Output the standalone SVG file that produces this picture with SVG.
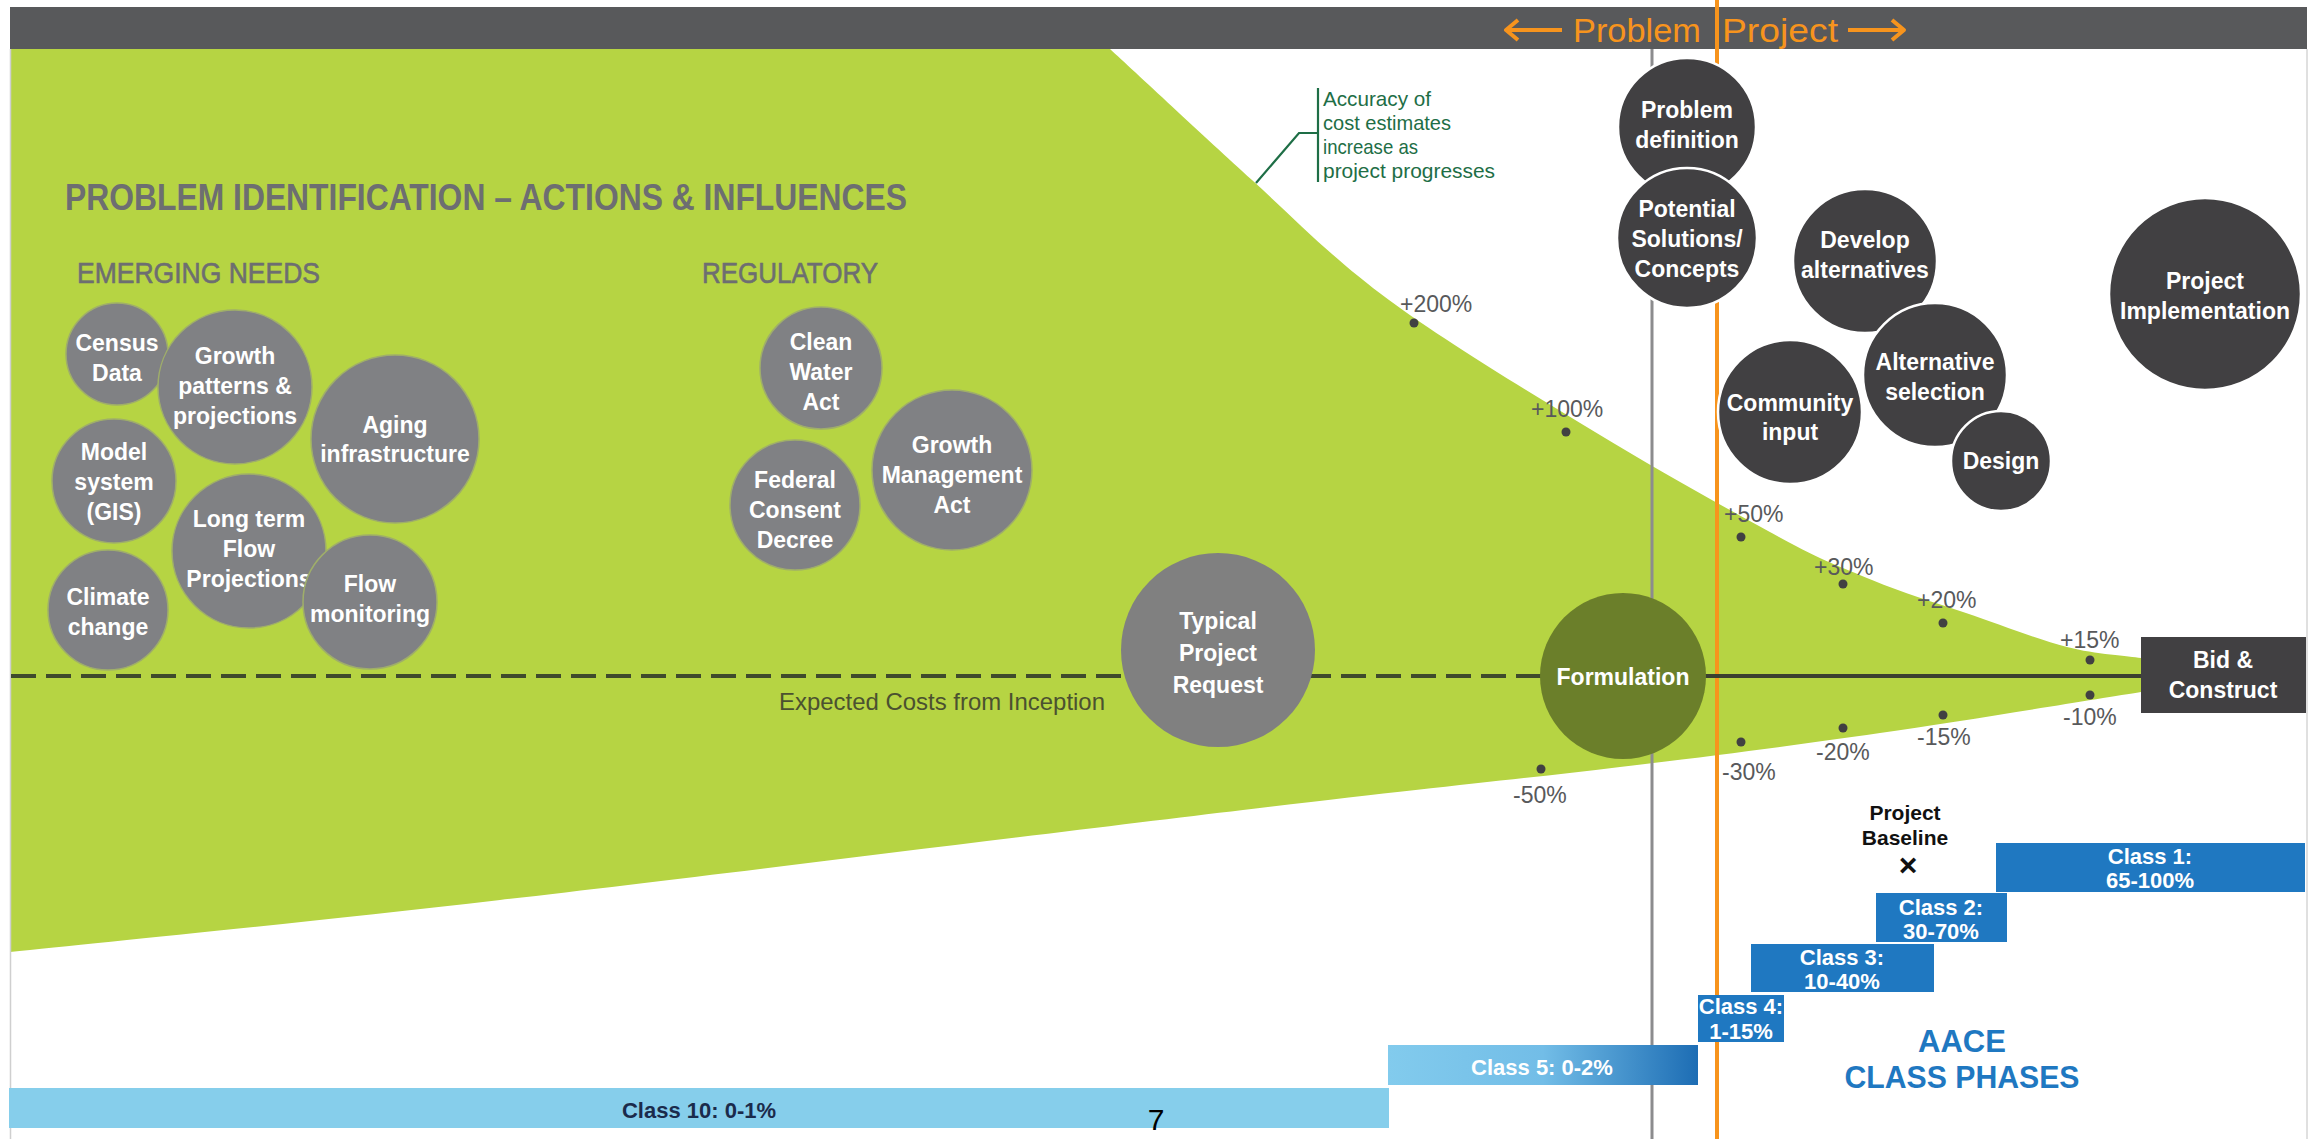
<svg xmlns="http://www.w3.org/2000/svg" width="2323" height="1139" viewBox="0 0 2323 1139">
  <defs>
    <linearGradient id="class5Fill" x1="0" y1="0" x2="1" y2="0">
      <stop offset="0" stop-color="#82cbed"/>
      <stop offset="0.5" stop-color="#72bde7"/>
      <stop offset="1" stop-color="#1d6db4"/>
    </linearGradient>
    <style>
      text { font-family: "Liberation Sans", Arial, Helvetica, sans-serif; }
      .lbl { font-weight: bold; font-size: 23px; fill: #ffffff; text-anchor: middle; }
      .infl circle { fill: #808184; stroke: #9fae6a; stroke-width: 1.5; }
      .phase circle { fill: #414042; stroke: #ffffff; stroke-width: 2.5; }
      .pct { font-size: 23px; fill: #58595b; }
      .dot { fill: #414042; }
      .bar { fill: #1f78c1; }
      .cls { font-weight: bold; font-size: 22px; fill: #ffffff; text-anchor: middle; }
      .head { font-weight: bold; fill: #6d6e71; }
      .note { font-size: 21px; fill: #1e6e46; }
      .aace { font-weight: bold; fill: #1f78c1; text-anchor: middle; }
    </style>
  </defs>

  <rect width="2323" height="1139" fill="#ffffff"/>

  <!-- cost-accuracy funnel -->
  <path id="funnel" fill="#b6d443" d="M10,49 L1110,49 C1134,71 1206,138 1252,180 C1298,222 1332,258 1389,300 C1446,342 1530,392.5 1595,432 C1660,471.5 1733,512 1779,537 C1825,562 1841,567 1872,580 C1903,593 1933.5,602 1966,613 C1998.5,624 2038,639.5 2067,647 C2096,654.5 2129,656 2141,658 L2150,658 L2150,691 L2141,692 C2097.5,698.8 1966.8,720.5 1880,733 C1793.2,745.5 1726.2,754.2 1620,767 C1513.8,779.8 1429.7,787.8 1243,810 C1056.3,832.2 705.3,876.3 500,900 C294.7,923.7 92.5,943.3 10,952 Z"/>

  <!-- page frame -->
  <line x1="10.5" y1="49" x2="10.5" y2="1139" stroke="#cfcfcf" stroke-width="1.5"/>
  <line x1="2307" y1="49" x2="2307" y2="1139" stroke="#d6d6d6" stroke-width="1.5"/>

  <!-- header bar -->
  <rect x="10" y="7" width="2297" height="42" fill="#58595b"/>

  <!-- connectors: phase dividers, cost baseline, callout -->
  <g id="connectors">
    <line x1="1652" y1="49" x2="1652" y2="1139" stroke="#8c8c8e" stroke-width="3"/>
    <line x1="1717" y1="0" x2="1717" y2="1139" stroke="#f7941d" stroke-width="4"/>
    <line x1="11" y1="676" x2="1545" y2="676" stroke="#3f4a2c" stroke-width="4" stroke-dasharray="25 10"/>
    <line x1="1700" y1="676" x2="2145" y2="676" stroke="#3b4030" stroke-width="4"/>
    <path d="M1256,183 L1299,133 L1318,133 M1318,88 L1318,182" fill="none" stroke="#1e6e46" stroke-width="2.2"/>
    <path d="M1562,30 H1507 M1518,20 L1506,30 L1518,40" fill="none" stroke="#f7941d" stroke-width="4" stroke-linejoin="round"/>
    <path d="M1848,30 H1903 M1892,20 L1904,30 L1892,40" fill="none" stroke="#f7941d" stroke-width="4" stroke-linejoin="round"/>
  </g>

  <!-- AACE class bars -->
  <g id="class-bars">
    <rect x="9" y="1088" width="1380" height="40" fill="#86ceeb"/>
    <text x="699" y="1118" font-weight="bold" font-size="22" fill="#1b2b4b" text-anchor="middle">Class 10: 0-1%</text>
    <rect x="1388" y="1045" width="310" height="40" fill="url(#class5Fill)"/>
    <text class="cls" x="1542" y="1075">Class 5: 0-2%</text>
    <rect class="bar" x="1698" y="995" width="86" height="47"/>
    <text class="cls" x="1741" y="1014">Class 4:</text>
    <text class="cls" x="1741" y="1039">1-15%</text>
    <rect class="bar" x="1751" y="944" width="183" height="48"/>
    <text class="cls" x="1842" y="965">Class 3:</text>
    <text class="cls" x="1842" y="989">10-40%</text>
    <rect class="bar" x="1876" y="893" width="131" height="49"/>
    <text class="cls" x="1941" y="915">Class 2:</text>
    <text class="cls" x="1941" y="939">30-70%</text>
    <rect class="bar" x="1996" y="843" width="309" height="49"/>
    <text class="cls" x="2150" y="864">Class 1:</text>
    <text class="cls" x="2150" y="888">65-100%</text>
  </g>

  <!-- header labels -->
  <text x="1573" y="42" font-size="34" fill="#f7941d" textLength="128" lengthAdjust="spacingAndGlyphs">Problem</text>
  <text x="1722" y="42" font-size="34" fill="#f7941d" textLength="116" lengthAdjust="spacingAndGlyphs">Project</text>

  <!-- section headings -->
  <text class="head" x="65" y="210" font-size="37" textLength="842" lengthAdjust="spacingAndGlyphs">PROBLEM IDENTIFICATION – ACTIONS &amp; INFLUENCES</text>
  <text x="77" y="283" font-size="29" fill="#6d6e71" textLength="243" lengthAdjust="spacingAndGlyphs" stroke="#6d6e71" stroke-width="0.6">EMERGING NEEDS</text>
  <text x="702" y="283" font-size="29" fill="#6d6e71" textLength="176" lengthAdjust="spacingAndGlyphs" stroke="#6d6e71" stroke-width="0.6">REGULATORY</text>

  <!-- accuracy callout -->
  <g id="accuracy-note" class="note">
    <text x="1323" y="106" textLength="108" lengthAdjust="spacingAndGlyphs">Accuracy of</text>
    <text x="1323" y="130" textLength="128" lengthAdjust="spacingAndGlyphs">cost estimates</text>
    <text x="1323" y="154" textLength="95" lengthAdjust="spacingAndGlyphs">increase as</text>
    <text x="1323" y="178" textLength="172" lengthAdjust="spacingAndGlyphs">project progresses</text>
  </g>

  <!-- emerging needs -->
  <g id="census-data" class="infl">
    <circle cx="117" cy="354" r="51"/>
    <text class="lbl" x="117" y="351">Census</text>
    <text class="lbl" x="117" y="381">Data</text>
  </g>
  <g id="growth-patterns" class="infl">
    <circle cx="235" cy="387" r="77"/>
    <text class="lbl" x="235" y="364">Growth</text>
    <text class="lbl" x="235" y="394">patterns &amp;</text>
    <text class="lbl" x="235" y="424">projections</text>
  </g>
  <g id="aging-infrastructure" class="infl">
    <circle cx="395" cy="439" r="84"/>
    <text class="lbl" x="395" y="433">Aging</text>
    <text class="lbl" x="395" y="462">infrastructure</text>
  </g>
  <g id="model-system" class="infl">
    <circle cx="114" cy="481" r="62"/>
    <text class="lbl" x="114" y="460">Model</text>
    <text class="lbl" x="114" y="490">system</text>
    <text class="lbl" x="114" y="520">(GIS)</text>
  </g>
  <g id="long-term-flow" class="infl">
    <circle cx="249" cy="551" r="77"/>
    <text class="lbl" x="249" y="527">Long term</text>
    <text class="lbl" x="249" y="557">Flow</text>
    <text class="lbl" x="249" y="587">Projections</text>
  </g>
  <g id="flow-monitoring" class="infl">
    <circle cx="370" cy="602" r="67"/>
    <text class="lbl" x="370" y="592">Flow</text>
    <text class="lbl" x="370" y="622">monitoring</text>
  </g>
  <g id="climate-change" class="infl">
    <circle cx="108" cy="610" r="60"/>
    <text class="lbl" x="108" y="605">Climate</text>
    <text class="lbl" x="108" y="635">change</text>
  </g>

  <!-- regulatory -->
  <g id="clean-water-act" class="infl">
    <circle cx="821" cy="368" r="61"/>
    <text class="lbl" x="821" y="350">Clean</text>
    <text class="lbl" x="821" y="380">Water</text>
    <text class="lbl" x="821" y="410">Act</text>
  </g>
  <g id="federal-consent-decree" class="infl">
    <circle cx="795" cy="505" r="65"/>
    <text class="lbl" x="795" y="488">Federal</text>
    <text class="lbl" x="795" y="518">Consent</text>
    <text class="lbl" x="795" y="548">Decree</text>
  </g>
  <g id="growth-management-act" class="infl">
    <circle cx="952" cy="470" r="80"/>
    <text class="lbl" x="952" y="453">Growth</text>
    <text class="lbl" x="952" y="483">Management</text>
    <text class="lbl" x="952" y="513">Act</text>
  </g>

  <text x="779" y="710" font-size="24" fill="#4b5130" textLength="326" lengthAdjust="spacingAndGlyphs">Expected Costs from Inception</text>

  <g id="typical-project-request">
    <circle cx="1218" cy="650" r="97" fill="#808080"/>
    <text class="lbl" x="1218" y="629" font-size="26">Typical</text>
    <text class="lbl" x="1218" y="661" font-size="26">Project</text>
    <text class="lbl" x="1218" y="693" font-size="26">Request</text>
  </g>

  <g id="formulation">
    <circle cx="1623" cy="676" r="83" fill="#6b7f2a"/>
    <text class="lbl" x="1623" y="685" font-size="24">Formulation</text>
  </g>

  <!-- accuracy range markers -->
  <g id="accuracy-markers">
    <circle class="dot" cx="1414" cy="323" r="4.5"/>
    <text class="pct" x="1400" y="312">+200%</text>
    <circle class="dot" cx="1566" cy="432" r="4.5"/>
    <text class="pct" x="1531" y="417">+100%</text>
    <circle class="dot" cx="1741" cy="537" r="4.5"/>
    <text class="pct" x="1724" y="522">+50%</text>
    <circle class="dot" cx="1843" cy="584" r="4.5"/>
    <text class="pct" x="1814" y="575">+30%</text>
    <circle class="dot" cx="1943" cy="623" r="4.5"/>
    <text class="pct" x="1917" y="608">+20%</text>
    <circle class="dot" cx="2090" cy="660" r="4.5"/>
    <text class="pct" x="2060" y="648">+15%</text>
    <circle class="dot" cx="2090" cy="695" r="4.5"/>
    <text class="pct" x="2063" y="725">-10%</text>
    <circle class="dot" cx="1943" cy="715" r="4.5"/>
    <text class="pct" x="1917" y="745">-15%</text>
    <circle class="dot" cx="1843" cy="728" r="4.5"/>
    <text class="pct" x="1816" y="760">-20%</text>
    <circle class="dot" cx="1741" cy="742" r="4.5"/>
    <text class="pct" x="1722" y="780">-30%</text>
    <circle class="dot" cx="1541" cy="769" r="4.5"/>
    <text class="pct" x="1513" y="803">-50%</text>
  </g>

  <!-- project phases -->
  <g id="problem-definition" class="phase">
    <circle cx="1687" cy="127" r="69"/>
    <text class="lbl" x="1687" y="118">Problem</text>
    <text class="lbl" x="1687" y="148">definition</text>
  </g>
  <g id="potential-solutions" class="phase">
    <circle cx="1687" cy="238" r="70"/>
    <text class="lbl" x="1687" y="217">Potential</text>
    <text class="lbl" x="1687" y="247">Solutions/</text>
    <text class="lbl" x="1687" y="277">Concepts</text>
  </g>
  <g id="develop-alternatives" class="phase">
    <circle cx="1865" cy="261" r="72"/>
    <text class="lbl" x="1865" y="248">Develop</text>
    <text class="lbl" x="1865" y="278">alternatives</text>
  </g>
  <g id="community-input" class="phase">
    <circle cx="1790" cy="412" r="72"/>
    <text class="lbl" x="1790" y="411">Community</text>
    <text class="lbl" x="1790" y="440">input</text>
  </g>
  <g id="alternative-selection" class="phase">
    <circle cx="1935" cy="375" r="72"/>
    <text class="lbl" x="1935" y="370">Alternative</text>
    <text class="lbl" x="1935" y="400">selection</text>
  </g>
  <g id="design" class="phase">
    <circle cx="2001" cy="461" r="50"/>
    <text class="lbl" x="2001" y="469">Design</text>
  </g>
  <g id="project-implementation" class="phase">
    <circle cx="2205" cy="294" r="96"/>
    <text class="lbl" x="2205" y="289">Project</text>
    <text class="lbl" x="2205" y="319">Implementation</text>
  </g>

  <g id="bid-construct">
    <rect x="2141" y="637" width="165" height="76" fill="#414042"/>
    <text class="lbl" x="2223" y="668">Bid &amp;</text>
    <text class="lbl" x="2223" y="698">Construct</text>
  </g>

  <!-- baseline marker and legend -->
  <g id="project-baseline">
    <text x="1905" y="820" font-weight="bold" font-size="21" fill="#111111" text-anchor="middle">Project</text>
    <text x="1905" y="845" font-weight="bold" font-size="21" fill="#111111" text-anchor="middle">Baseline</text>
    <text x="1908" y="876" font-weight="bold" font-size="32" fill="#111111" text-anchor="middle">×</text>
  </g>
  <text class="aace" x="1962" y="1052" font-size="31">AACE</text>
  <text class="aace" x="1962" y="1088" font-size="32" textLength="235" lengthAdjust="spacingAndGlyphs">CLASS PHASES</text>

  <text x="1156" y="1130" font-size="30" fill="#000000" text-anchor="middle">7</text>
</svg>
